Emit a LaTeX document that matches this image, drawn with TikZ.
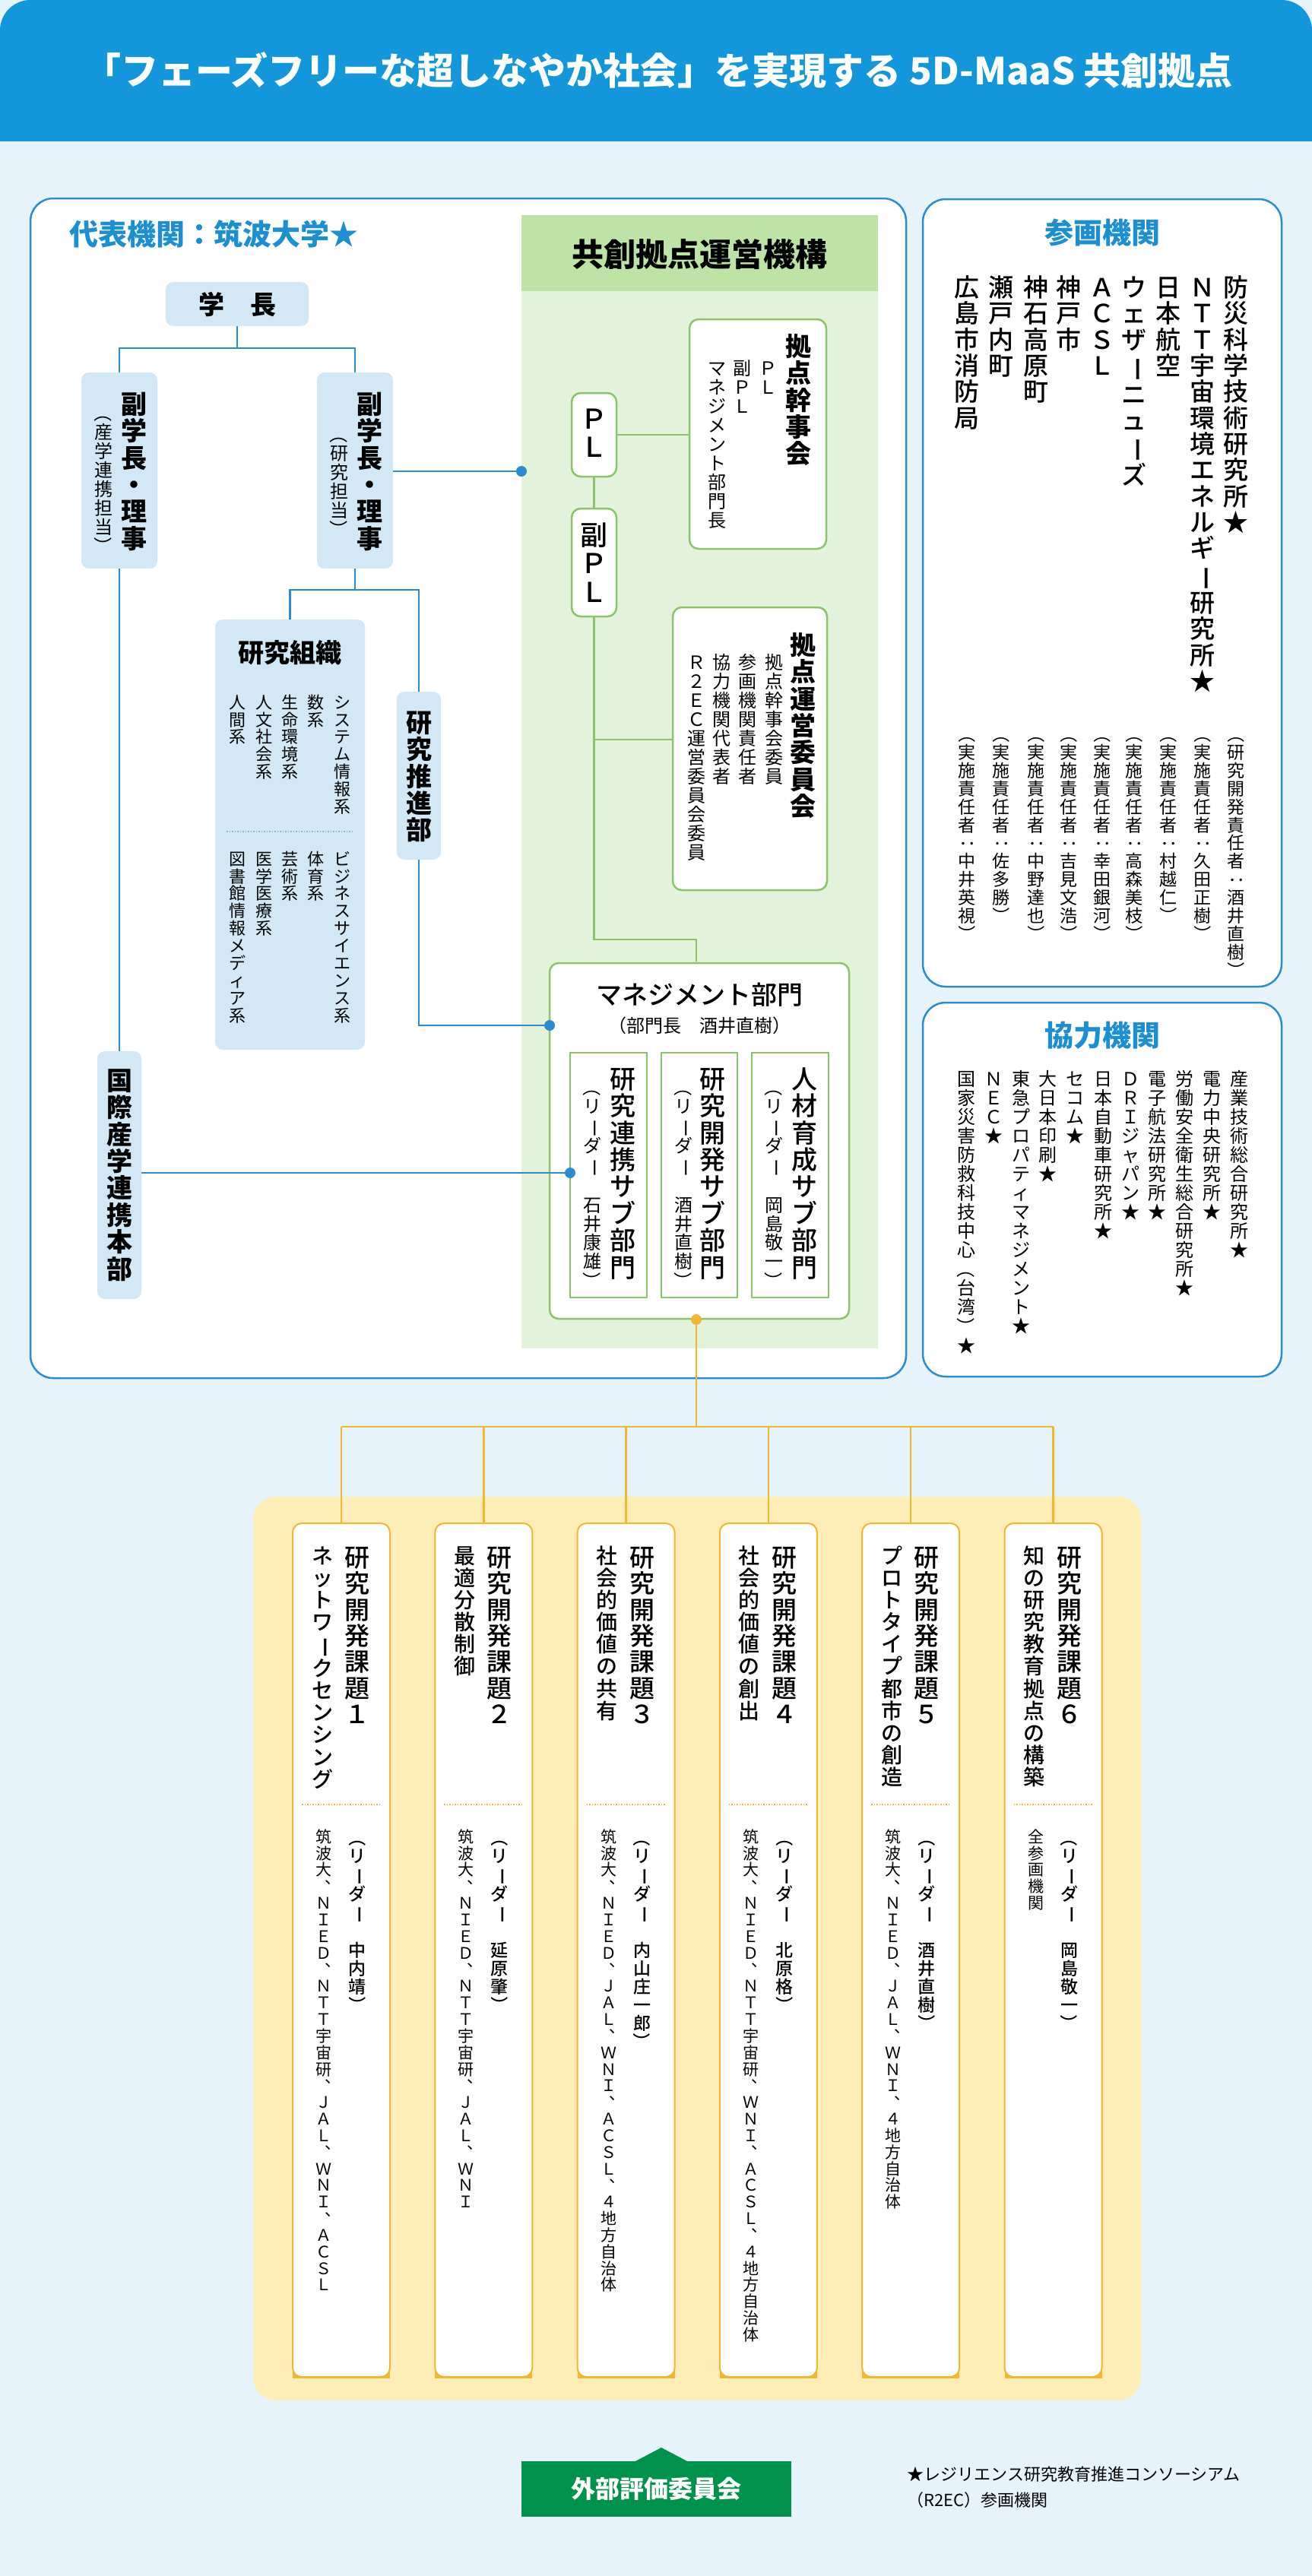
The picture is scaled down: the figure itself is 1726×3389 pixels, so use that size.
\documentclass[tikz,border=0pt]{standalone}
\usepackage{graphicx}
\usepackage{fontspec}
\setmainfont{Noto Sans CJK JP}
\newfontfamily\medium{Noto Sans CJK JP Medium}
\definecolor{hdrblue}{HTML}{1496DA}
\definecolor{bgblue}{HTML}{E6F3FB}
\definecolor{lineblue}{HTML}{2B8DCD}
\definecolor{boxblue}{HTML}{D2E8F6}
\definecolor{titleblue}{HTML}{1B8FD2}
\definecolor{greenpanel}{HTML}{E3F2DA}
\definecolor{greenhead}{HTML}{BEE3A6}
\definecolor{greenline}{HTML}{8BC46A}
\definecolor{yellowbg}{HTML}{FFEDB8}
\definecolor{orangeline}{HTML}{F2B632}
\definecolor{evalgreen}{HTML}{00914A}
\newcommand\fs[1]{\fontsize{#1}{#1}\selectfont}
\makeatletter
\def\vt@end{vt@end}
\newcommand\vt[1]{\vbox{\offinterlineskip\vt@loop#1\vt@end}}
\newcommand\vtx[1]{\expandafter\vt\expandafter{#1}}
\def\vt@loop#1{\ifx#1\vt@end\else\vt@cell{#1}\expandafter\vt@loop\fi}
\def\vt@cell#1{\hbox to 1.02em{\hss\vt@glyph{#1}\hss\vrule height .86em depth .18em width 0pt}}
\def\vt@glyph#1{\ifx#1ー\rotatebox[origin=c]{-90}{ー}\else\ifx#1（\rotatebox[origin=c]{-90}{（}\else\ifx#1）\rotatebox[origin=c]{-90}{）}\else\ifx#1：\rotatebox[origin=c]{-90}{：}\else\ifx#1、\makebox[1em][l]{\kern.55em\raisebox{.55em}{、}}\else#1\fi\fi\fi\fi\fi}
\makeatother
\tikzset{
  vtn/.style={inner sep=0pt, anchor=north},
  lbbox/.style={fill=boxblue, rounded corners=10pt, inner sep=0pt},
  gbox/.style={fill=white, draw=greenline, line width=2.5pt, rounded corners=12pt, inner sep=0pt},
  sbox/.style={fill=white, draw=greenline, line width=2pt, inner sep=0pt},
  tbox/.style={fill=white, draw=orangeline, line width=2pt, rounded corners=12pt, inner sep=0pt, minimum width=128, minimum height=1123},
  outer/.style={fill=white, draw=lineblue, line width=2.5pt, rounded corners=30pt},
  bl/.style={draw=lineblue, line width=2.5pt},
  gl/.style={draw=greenline, line width=2.5pt},
  ol/.style={draw=orangeline, line width=2.5pt},
}
\begin{document}
\begin{tikzpicture}[x=1pt,y=-1pt]
\useasboundingbox (0,0) rectangle (1726,3389);
\fill[bgblue] (0,0) rectangle (1726,3389);
\fill[hdrblue, rounded corners=40pt] (0,0) rectangle (1726,230);
\fill[hdrblue] (0,100) rectangle (1726,186);
\fill[bgblue] (0,186) rectangle (1726,240);
\node[text=white, font=\fs{49}\bfseries] (title) at (866,93) {「フェーズフリーな超しなやか社会」を実現する 5D-MaaS 共創拠点};

% outer boxes
\draw[outer] (40,261) rectangle (1192,1813);
\draw[outer] (1214,262) rectangle (1686,1298);
\draw[outer] (1214,1319) rectangle (1686,1811);
\node[anchor=west, text=titleblue, font=\fs{38}\bfseries] (daihyo) at (88,308) {代表機関：筑波大学★};

% green panel
\fill[greenpanel] (686,283) rectangle (1155,1774);
\fill[greenhead] (686,283) rectangle (1155,383);
\node[font=\fs{42}\bfseries] (kyoso) at (920,334) {共創拠点運営機構};

% left org boxes
\node[lbbox, minimum width=188, minimum height=58, font=\fs{34}\bfseries] (gakucho) at (312,400) {学　長};
\node[lbbox, minimum width=100, minimum height=258] (fuku1) at (157,619) {};
\node[lbbox, minimum width=100, minimum height=258] (fuku2) at (467,619) {};
\node[lbbox, minimum width=197, minimum height=566] (soshiki) at (381.5,1098) {};
\node[lbbox, minimum width=58, minimum height=221] (suishin) at (551,1020.5) {};
\node[lbbox, minimum width=58, minimum height=326] (kokusai) at (157,1546) {};

\node[vtn, font=\fs{34}\bfseries] at (176,515) {\vt{副学長・理事}};
\node[vtn, font=\fs{24}] at (136,531) {\vt{（産学連携担当）}};
\node[vtn, font=\fs{34}\bfseries] at (486,515) {\vt{副学長・理事}};
\node[vtn, font=\fs{24}] at (446,559) {\vt{（研究担当）}};
\node[font=\fs{34}\bfseries] at (381,859) {研究組織};
\node[vtn, font=\fs{22}] at (450,913) {\vt{システム情報系}};
\node[vtn, font=\fs{22}] at (415,913) {\vt{数系}};
\node[vtn, font=\fs{22}] at (381,913) {\vt{生命環境系}};
\node[vtn, font=\fs{22}] at (347,913) {\vt{人文社会系}};
\node[vtn, font=\fs{22}] at (312,913) {\vt{人間系}};
\draw[lineblue!60, line width=1.5pt, dotted] (298,1094) -- (465,1094);
\node[vtn, font=\fs{22}] at (450,1119) {\vt{ビジネスサイエンス系}};
\node[vtn, font=\fs{22}] at (415,1119) {\vt{体育系}};
\node[vtn, font=\fs{22}] at (381,1119) {\vt{芸術系}};
\node[vtn, font=\fs{22}] at (347,1119) {\vt{医学医療系}};
\node[vtn, font=\fs{22}] at (312,1119) {\vt{図書館情報メディア系}};
\node[vtn, font=\fs{34}\bfseries] at (551,934) {\vt{研究推進部}};
\node[vtn, font=\fs{34}\bfseries] at (157,1405) {\vt{国際産学連携本部}};

% green boxes
\node[gbox, minimum width=59, minimum height=110] (pl) at (781.5,572) {};
\node[gbox, minimum width=59, minimum height=142] (fukupl) at (781.5,740) {};
\node[gbox, minimum width=180, minimum height=302] (kanji) at (997,571) {};
\node[gbox, minimum width=203, minimum height=372] (unei) at (986.5,985) {};
\node[gbox, minimum width=394, minimum height=468] (mgmt) at (920,1501) {};
\node[sbox, minimum width=101, minimum height=322] (sub1) at (1039.5,1546) {};
\node[sbox, minimum width=100, minimum height=322] (sub2) at (920,1546) {};
\node[sbox, minimum width=101, minimum height=322] (sub3) at (800.5,1546) {};

\node[vtn, font=\fs{36}\medium] at (781.5,533) {\vt{ＰＬ}};
\node[vtn, font=\fs{36}\medium] at (781.5,686) {\vt{副ＰＬ}};
\node[vtn, font=\fs{34}\bfseries] at (1050,439) {\vt{拠点幹事会}};
\node[vtn, font=\fs{24}] at (1010,473) {\vt{ＰＬ}};
\node[vtn, font=\fs{24}] at (976,473) {\vt{副ＰＬ}};
\node[vtn, font=\fs{24}] at (943,473) {\vt{マネジメント部門長}};
\node[vtn, font=\fs{34}\bfseries] at (1056,832) {\vt{拠点運営委員会}};
\node[vtn, font=\fs{24}] at (1018,860) {\vt{拠点幹事会委員}};
\node[vtn, font=\fs{24}] at (983,860) {\vt{参画機関責任者}};
\node[vtn, font=\fs{24}] at (949,860) {\vt{協力機関代表者}};
\node[vtn, font=\fs{24}] at (916,860) {\vt{Ｒ２ＥＣ運営委員会委員}};
\node[font=\fs{34}\medium] at (920,1309) {マネジメント部門};
\node[font=\fs{24}] at (920,1349) {（部門長　酒井直樹）};
\node[vtn, font=\fs{34}\medium] at (1058,1403) {\vt{人材育成サブ部門}};
\node[vtn, font=\fs{24}] at (1018,1418) {\vt{（リーダー　岡島敬一）}};
\node[vtn, font=\fs{34}\medium] at (937,1403) {\vt{研究開発サブ部門}};
\node[vtn, font=\fs{24}] at (899,1418) {\vt{（リーダー　酒井直樹）}};
\node[vtn, font=\fs{34}\medium] at (819,1403) {\vt{研究連携サブ部門}};
\node[vtn, font=\fs{24}] at (779,1418) {\vt{（リーダー　石井康雄）}};

% blue connectors
\draw[bl] (gakucho.south) -- (312,458) coordinate (j1);
\draw[bl] (fuku1.north) |- (j1) -| (fuku2.north);
\draw[bl] (fuku1.south) -- (kokusai.north);
\draw[bl] (fuku2.south) -- (467,776) coordinate (j2);
\draw[bl] (soshiki.north) |- (j2) -| (suishin.north);
\coordinate (d1) at (686,620);
\draw[bl] (fuku2.east |- d1) -- (d1);
\fill[lineblue] (d1) circle (7);
\coordinate (d2) at (723,1349);
\draw[bl] (suishin.south) |- (d2);
\fill[lineblue] (d2) circle (7);
\coordinate (d3) at (750,1543);
\draw[bl] (kokusai.east |- d3) -- (d3);
\fill[lineblue] (d3) circle (7);

% green connectors
\draw[gl] (pl.south) -- (fukupl.north);
\draw[gl] (pl.east) -- (kanji.west |- pl.east);
\coordinate (g1) at (781.5,1236);
\draw[gl] (fukupl.south) -- (g1) -| (916,1265);
\draw[gl] (781.5,973) -- (unei.west |- 0,973);

% participating institutions
\node[text=titleblue, font=\fs{38}\bfseries] (sankaku) at (1450,306) {参画機関};
\foreach \x/\a/\b in {1626/防災科学技術研究所★/（研究開発責任者：酒井直樹）,
  1582/ＮＴＴ宇宙環境エネルギー研究所★/（実施責任者：久田正樹）,
  1537/日本航空/（実施責任者：村越仁）,
  1492/ウェザーニューズ/（実施責任者：高森美枝）,
  1450/ＡＣＳＬ/（実施責任者：幸田銀河）,
  1406/神戸市/（実施責任者：吉見文浩）,
  1363/神石高原町/（実施責任者：中野達也）,
  1317/瀬戸内町/（実施責任者：佐多勝）,
  1272/広島市消防局/（実施責任者：中井英視）}{
  \node[vtn, font=\fs{33}\medium] at (\x,362) {\vtx{\a}};
  \node[vtn, font=\fs{23}] at (\x,954) {\vtx{\b}};
}
\node[text=titleblue, font=\fs{38}\bfseries] (kyoryoku) at (1450,1362) {協力機関};
\foreach \x/\a in {1630/産業技術総合研究所★, 1594/電力中央研究所★, 1558/労働安全衛生総合研究所★,
  1522/電子航法研究所★, 1487/ＤＲＩジャパン★, 1451/日本自動車研究所★, 1414/セコム★,
  1378/大日本印刷★, 1343/東急プロパティマネジメント★, 1307/ＮＥＣ★, 1271/国家災害防救科技中心（台湾）★}{
  \node[vtn, font=\fs{24}] at (\x,1408) {\vtx{\a}};
}

% research tasks
\fill[yellowbg, rounded corners=30pt] (333,1969) rectangle (1501,3158);
\coordinate (o1) at (916,1736);
\draw[ol] (mgmt.south -| o1) -- (916,1877) coordinate (oj);
\fill[orangeline] (o1) circle (7);
\foreach \i/\a/\b/\c/\d in {
 1/研究開発課題１/ネットワークセンシング/（リーダー　中内靖）/筑波大、ＮＩＥＤ、ＮＴＴ宇宙研、ＪＡＬ、ＷＮＩ、ＡＣＳＬ,
 2/研究開発課題２/最適分散制御/（リーダー　延原肇）/筑波大、ＮＩＥＤ、ＮＴＴ宇宙研、ＪＡＬ、ＷＮＩ,
 3/研究開発課題３/社会的価値の共有/（リーダー　内山庄一郎）/筑波大、ＮＩＥＤ、ＪＡＬ、ＷＮＩ、ＡＣＳＬ、４地方自治体,
 4/研究開発課題４/社会的価値の創出/（リーダー　北原格）/筑波大、ＮＩＥＤ、ＮＴＴ宇宙研、ＷＮＩ、ＡＣＳＬ、４地方自治体,
 5/研究開発課題５/プロトタイプ都市の創造/（リーダー　酒井直樹）/筑波大、ＮＩＥＤ、ＪＡＬ、ＷＮＩ、４地方自治体,
 6/研究開発課題６/知の研究教育拠点の構築/（リーダー　岡島敬一）/全参画機関}{
  \pgfmathsetmacro\cx{449+187.3*(\i-1)}
  \draw[ol] (\cx,1877) -- (\cx,2004);
  \fill[orangeline] (\cx-64,2540) rectangle (\cx+64,3129);
  \node[tbox] (task\i) at (\cx,2565.5) {};
  \draw[orangeline, line width=1.5pt, dotted] (\cx-52,2374) -- (\cx+52,2374);
  \node[vtn, font=\fs{33}\medium] at (\cx+21,2033) {\vtx{\a}};
  \node[vtn, font=\fs{28}\medium] at (\cx-25,2033) {\vtx{\b}};
  \node[vtn, font=\fs{23}\medium] at (\cx+21,2406) {\vtx{\c}};
  \node[vtn, font=\fs{21}] at (\cx-23,2406) {\vtx{\d}};
}
\draw[ol] (449,1877) -- (1386,1877);

% evaluation
\fill[evalgreen] (686,3238) rectangle (1041,3311);
\fill[evalgreen] (834,3239) -- (870,3220) -- (906,3239) -- cycle;
\node[text=white, font=\fs{32}\bfseries] (hyoka) at (863,3274) {外部評価委員会};
\node[anchor=west, font=\fs{22}] (note1) at (1190,3255) {★レジリエンス研究教育推進コンソーシアム};
\node[anchor=west, font=\fs{22}] (note2) at (1190,3289) {（R2EC）参画機関};
\end{tikzpicture}
\end{document}
